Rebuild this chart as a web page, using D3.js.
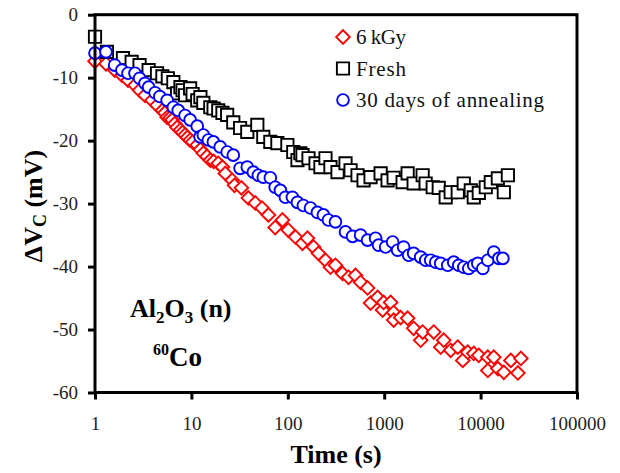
<!DOCTYPE html>
<html>
<head>
<meta charset="utf-8">
<script src="https://cdn.jsdelivr.net/npm/d3@7"></script>
<style>
  body { margin: 0; background: #fff; }
  text { font-family: "Liberation Serif", "Times New Roman", serif; }
</style>
</head>
<body>
<svg id="chart" width="620" height="473"></svg>
<script>
// Threshold-voltage shift ΔVc (mV) versus time (s)

// 6 kGy
const irrTime = [1, 1.3, 1.6, 1.9, 2.2, 2.6, 2.9, 3.3, 3.9, 4.4,
  5.0, 5.3, 5.6, 6.0, 6.3, 6.7, 7.1, 7.7, 8.1, 8.6,
  9.1, 9.7, 10.3, 11.5, 12.4, 13.3, 14.5, 15.7, 17, 19,
  21, 22.5, 26.5, 28, 33, 39, 46, 54, 63, 74,
  88, 101, 120, 142, 160, 185, 208, 246, 277, 312,
  370, 427, 504, 569, 672, 722, 854, 962, 986, 1166,
  1253, 1253, 1481, 1750, 2020, 2390, 2505, 3264, 3856, 4143,
  4897, 5790, 6530, 7360, 8495, 9580, 11880, 11880, 13710, 15100,
  17420, 20600, 24370, 26190];
const irrValue = [-7.4, -7.8, -8.8, -9.6, -10.4, -11.2, -12.0, -12.8, -13.6, -14.4,
  -15.2, -15.6, -16.3, -16.4, -16.7, -17.3, -17.9, -18.3, -18.7, -19.1,
  -19.5, -19.9, -20.2, -20.7, -21.4, -22.0, -22.5, -23.1, -23.3, -23.6,
  -24.2, -25.2, -26.3, -27.1, -27.5, -29.1, -29.9, -30.7, -31.8, -33.8,
  -32.6, -34.2, -35.3, -36.3, -35.5, -36.9, -37.9, -39.0, -40.1, -39.8,
  -41.1, -41.7, -41.4, -42.5, -43.4, -45.8, -44.9, -46.9, -45.7, -45.7,
  -47.3, -48.5, -48.1, -48.2, -49.8, -51.7, -50.4, -50.4, -52.8, -51.7,
  -53.3, -52.8, -54.9, -53.6, -53.8, -54.1, -54.4, -56.5, -54.4, -56.2,
  -56.8, -54.9, -56.9, -54.6];

// Fresh
const freshTime = [1, 1.33, 1.95, 2.4, 2.9, 3.6, 4.4, 5.0, 5.7, 6.5,
  7.1, 7.7, 8.1, 8.6, 9.7, 10.3, 11.5, 12.4, 13.3, 15.7,
  17, 19, 21, 23.5, 27.2, 32, 38, 48.3, 55.7, 65.9,
  78, 99, 114, 126, 135, 142, 164, 194, 218, 246,
  277, 328, 397, 448, 529, 611, 722, 918, 1084, 1253,
  1552, 1750, 2020, 2505, 2693, 3186, 3680, 4346, 4897, 5790,
  6688, 7911, 8495, 9580, 11320, 12760, 15100, 17420, 19190];
const freshValue = [-3.5, -5.9, -6.9, -7.5, -8.0, -8.8, -9.3, -9.8, -10.1, -10.7,
  -12.5, -11.5, -12.0, -12.8, -11.7, -12.6, -13.6, -13.1, -14.0, -14.7,
  -14.9, -15.2, -15.6, -15.9, -17.1, -18.0, -18.6, -17.5, -19.4, -20.2,
  -20.4, -20.7, -21.8, -23.1, -22.0, -22.3, -22.8, -23.6, -24.2, -22.8,
  -24.2, -25.0, -23.6, -24.7, -25.5, -26.3, -25.8, -25.2, -26.3, -25.9,
  -26.6, -25.2, -26.8, -25.5, -26.8, -27.4, -27.5, -29.0, -28.2, -28.2,
  -26.8, -27.9, -29.0, -28.3, -27.4, -26.6, -26.0, -28.2, -25.5];

// 30 days of annealing
const annealTime = [1, 1.3, 1.6, 1.9, 2.2, 2.6, 2.9, 3.3, 3.6, 4.2,
  4.7, 5.6, 6.5, 7.3, 8.6, 9.7, 11.5, 12.3, 13.3, 15,
  16.9, 19.9, 23.5, 27.2, 32, 38, 43.9, 49.5, 55.7, 65.9,
  74, 83.8, 94.4, 111.6, 125.9, 145, 172, 203, 234, 264,
  312, 397, 470, 569, 672, 814, 875, 1035, 1223, 1378,
  1591, 1794, 2020, 2390, 2693, 3035, 3421, 3856, 4561, 5262,
  5933, 6688, 7540, 8495, 9355, 10547, 11880, 13710, 15460, 17020];
const annealValue = [-6.1, -5.9, -8.0, -8.8, -9.3, -9.3, -10.1, -10.9, -11.5, -12.4,
  -13.0, -13.6, -14.7, -15.2, -16.0, -16.7, -17.7, -19.4, -19.1, -19.9,
  -20.2, -21.0, -21.8, -22.3, -24.4, -24.2, -25.0, -25.5, -25.8, -25.9,
  -27.4, -27.9, -29.0, -29.0, -29.8, -30.3, -30.7, -31.4, -31.8, -32.6,
  -32.9, -34.5, -35.2, -35.0, -35.8, -35.5, -36.6, -36.9, -36.1, -37.4,
  -36.9, -38.2, -37.9, -38.5, -39.0, -39.0, -39.3, -39.5, -39.8, -39.3,
  -39.8, -40.1, -40.3, -39.8, -39.5, -40.3, -39.0, -37.7, -38.7, -38.7];

const seriesNames = ["6 kGy", "Fresh", "30 days of annealing"];
const seriesColors = ["#ff0000", "#000000", "#0000ff"];
const seriesShapes = ["diamond", "square", "circle"];

const xTicks = [1, 10, 100, 1000, 10000, 100000];
const yTicks = [0, -10, -20, -30, -40, -50, -60];

const svg = d3.select("#chart");
const plotLeft = 95, plotRight = 577, plotTop = 14.7, plotBottom = 392.5;

const x = d3.scaleLog().domain([1, 100000]).range([plotLeft, plotRight]);
const y = d3.scaleLinear().domain([-60, 0]).range([plotBottom, plotTop]);

const series = [
  d3.zip(irrTime, irrValue),
  d3.zip(freshTime, freshValue),
  d3.zip(annealTime, annealValue)
];

// marker paths
const shapePath = {
  diamond: d3.symbol().type(d3.symbolSquare).size(92)(),
  square: d3.symbol().type(d3.symbolSquare).size(150)(),
  circle: d3.symbol().type(d3.symbolCircle).size(108)()
};
const shapeRotate = { diamond: 45, square: 0, circle: 0 };

// axes
const xAxis = d3.axisBottom(x).tickValues(xTicks)
  .tickFormat(d3.format("d")).tickSize(7).tickPadding(17);
const yAxis = d3.axisLeft(y).tickValues(yTicks)
  .tickFormat(d => String(d))
  .tickSize(7).tickPadding(10);

const gx = svg.append("g").attr("transform", `translate(0,${plotBottom})`).call(xAxis);
const gy = svg.append("g").attr("transform", `translate(${plotLeft},0)`).call(yAxis);
[gx, gy].forEach(g => {
  g.select(".domain").remove();
  g.selectAll(".tick line").attr("stroke", "#000").attr("stroke-width", 3);
  g.selectAll(".tick text").attr("font-size", 19).attr("fill", "#222")
    .style("font-family", '"Liberation Serif", "Times New Roman", serif');
});

// data markers
[0, 1, 2].forEach(i => {
  svg.append("g").selectAll("path").data(series[i]).join("path")
    .attr("d", shapePath[seriesShapes[i]])
    .attr("transform", d => `translate(${x(d[0])},${y(d[1])}) rotate(${shapeRotate[seriesShapes[i]]})`)
    .attr("fill", "#fff")
    .attr("stroke", seriesColors[i])
    .attr("stroke-width", 1.9);
});

// plot frame
svg.append("rect")
  .attr("x", plotLeft).attr("y", plotTop)
  .attr("width", plotRight - plotLeft).attr("height", plotBottom - plotTop)
  .attr("fill", "none").attr("stroke", "#000").attr("stroke-width", 3);

// legend (label widths set so the wide serif spacing is kept)
const legendTextWidth = [50, 50, 188];
const legend = svg.append("g");
seriesNames.forEach((name, i) => {
  const ly = 37 + i * 31.5;
  legend.append("path")
    .attr("d", shapePath[seriesShapes[i]])
    .attr("transform", `translate(343,${ly}) rotate(${shapeRotate[seriesShapes[i]]})`)
    .attr("fill", "#fff").attr("stroke", seriesColors[i]).attr("stroke-width", 1.9);
  legend.append("text")
    .attr("x", 356).attr("y", ly + 7)
    .attr("font-size", 21).attr("fill", "#111")
    .attr("textLength", legendTextWidth[i]).attr("lengthAdjust", "spacing")
    .text(name);
});

// axis titles
svg.append("text")
  .attr("x", 336).attr("y", 463)
  .attr("text-anchor", "middle")
  .attr("font-size", 26).attr("font-weight", "bold")
  .text("Time (s)");

const yt = svg.append("text")
  .attr("transform", "translate(42,206) rotate(-90)")
  .attr("text-anchor", "middle")
  .attr("font-size", 26).attr("font-weight", "bold");
yt.append("tspan").text("ΔV");
yt.append("tspan").attr("font-size", 18).attr("dy", 4).text("C");
yt.append("tspan").attr("dy", -4).text(" (mV)");

// sample annotations
const a1 = svg.append("text")
  .attr("x", 130).attr("y", 317)
  .attr("font-size", 26).attr("font-weight", "bold");
a1.append("tspan").text("Al");
a1.append("tspan").attr("font-size", 17).attr("dy", 6).text("2");
a1.append("tspan").attr("dy", -6).text("O");
a1.append("tspan").attr("font-size", 17).attr("dy", 6).text("3");
a1.append("tspan").attr("dy", -6).text(" (n)");

const a2 = svg.append("text")
  .attr("x", 153).attr("y", 366)
  .attr("font-size", 27).attr("font-weight", "bold");
a2.append("tspan").attr("font-size", 16).attr("dy", -11).text("60");
a2.append("tspan").attr("dy", 11).text("Co");
</script>
</body>
</html>
